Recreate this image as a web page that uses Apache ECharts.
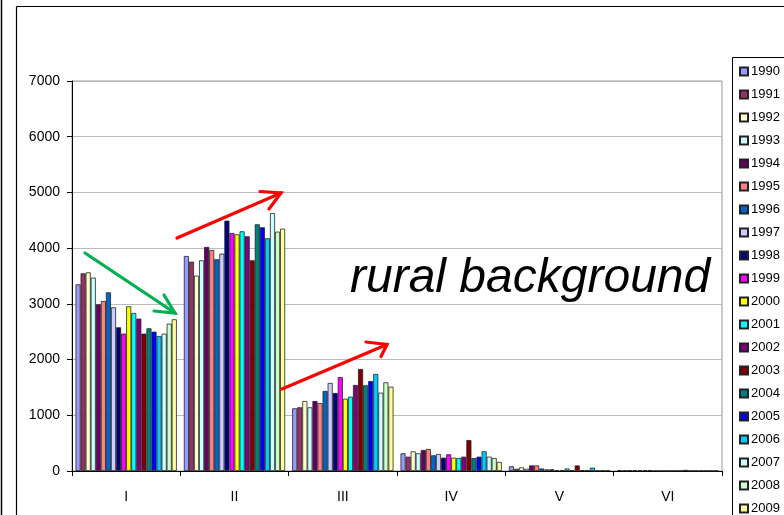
<!DOCTYPE html>
<html>
<head>
<meta charset="utf-8">
<script src="https://cdn.jsdelivr.net/npm/echarts@6/dist/echarts.min.js"></script>
<style>
  html, body { margin: 0; padding: 0; background: #fff; }
  #chart { width: 784px; height: 515px; }
</style>
</head>
<body>
<div id="chart"></div>
<script>
// Zone categories and the years shown as series
const categories = ['I', 'II', 'III', 'IV', 'V', 'VI'];
const years = ['1990','1991','1992','1993','1994','1995','1996','1997','1998','1999',
               '2000','2001','2002','2003','2004','2005','2006','2007','2008','2009'];

// Values per zone, one entry per year (1990..2009)
const zoneI   = [3350,3548,3566,3470,2992,3052,3207,2938,2579,2465,2956,2836,2734,2465,2561,2501,2423,2465,2644,2723];
const zoneII  = [3859,3757,3506,3782,4021,3967,3800,3901,4493,4272,4248,4302,4213,3782,4428,4374,4177,4631,4296,4350];
const zoneIII = [1125,1143,1256,1143,1256,1220,1436,1580,1400,1687,1298,1334,1544,1831,1538,1615,1741,1406,1592,1513];
const zoneIV  = [318,257,353,318,377,395,282,305,239,300,239,233,257,556,233,257,353,257,233,162];
const zoneV   = [85,40,65,40,100,100,45,30,30,15,15,45,15,100,15,15,60,10,10,10];
const zoneVI  = [15,10,15,15,15,15,15,5,5,5,5,5,5,20,5,5,5,5,5,5];

// Y axis ticks
const yTicks = [0,1000,2000,3000,4000,5000,6000,7000];

const palette = ['#9999FF','#993366','#FFFFCC','#CCFFFF','#660066','#FF8080','#0066CC','#CCCCFF',
                 '#000080','#FF00FF','#FFFF00','#00FFFF','#800080','#800000','#008080','#0000FF',
                 '#00CCFF','#CCFFFF','#CCFFCC','#FFFF99'];

const zones = [zoneI, zoneII, zoneIII, zoneIV, zoneV, zoneVI];

const series = years.map((y, i) => ({
  name: y,
  type: 'bar',
  barGap: '0%',
  barCategoryGap: '6.5%',
  data: zones.map(z => z[i]),
  itemStyle: { color: palette[i], borderColor: '#222', borderWidth: 0.8 },
  emphasis: { disabled: true }
}));

function arrow(from, to, w1, w2, color) {
  return [
    { type: 'line', silent: true, z: 100,
      shape: { x1: from[0], y1: from[1], x2: to[0], y2: to[1] },
      style: { stroke: color, lineWidth: 3.2, lineCap: 'round' } },
    { type: 'polyline', silent: true, z: 100,
      shape: { points: [w1, to, w2] },
      style: { stroke: color, lineWidth: 3.2, lineCap: 'round', lineJoin: 'miter', fill: null } }
  ];
}

const chart = echarts.init(document.getElementById('chart'), null, { renderer: 'canvas' });

chart.setOption({
  animation: false,
  backgroundColor: '#fff',
  textStyle: { fontFamily: 'Liberation Sans, Arial, sans-serif' },
  grid: { left: 72, top: 81, width: 650, height: 390, show: true, borderColor: '#999', borderWidth: 1 },
  legend: {
    orient: 'vertical',
    left: 739,
    top: 65,
    height: 480,
    padding: 0,
    itemWidth: 8,
    itemHeight: 8,
    itemGap: 10,
    icon: 'rect',
    selectedMode: false,
    data: years,
    textStyle: { fontSize: 13, lineHeight: 13, color: '#000', padding: [0, 0, 0, -2] }
  },
  xAxis: {
    type: 'category',
    data: categories,
    axisLine: { lineStyle: { color: '#000', width: 1 } },
    axisTick: { show: true, length: 5, lineStyle: { color: '#000' } },
    axisLabel: { color: '#000', fontSize: 14, margin: 19 },
    splitLine: { show: false }
  },
  yAxis: {
    type: 'value',
    min: yTicks[0],
    max: yTicks[yTicks.length - 1],
    interval: 1000,
    axisLine: { show: true, lineStyle: { color: '#000', width: 1 } },
    axisTick: { show: true, length: 5, lineStyle: { color: '#000' } },
    axisLabel: { color: '#000', fontSize: 14, margin: 12, formatter: v => String(v) },
    splitLine: { lineStyle: { color: '#bbb', width: 1 } }
  },
  series: series,
  graphic: [
    // outer frame lines
    { type: 'line', silent: true, shape: { x1: 1.5, y1: 0, x2: 1.5, y2: 515 }, style: { stroke: '#000', lineWidth: 1.5 } },
    { type: 'line', silent: true, shape: { x1: 16.5, y1: 6.5, x2: 16.5, y2: 515 }, style: { stroke: '#000', lineWidth: 1.2 } },
    { type: 'line', silent: true, shape: { x1: 16.5, y1: 6.5, x2: 784, y2: 6.5 }, style: { stroke: '#000', lineWidth: 1.2 } },
    // legend box
    { type: 'rect', silent: true, z: -1, shape: { x: 732.5, y: 57.5, width: 100, height: 500 }, style: { stroke: '#000', lineWidth: 1, fill: '#fff' } },
    // caption
    { type: 'text', silent: true, z: 100, x: 350, y: 279,
      style: { text: 'rural background', fill: '#000', fontSize: 48, fontStyle: 'italic',
               fontFamily: 'Liberation Sans, Arial, sans-serif', verticalAlign: 'middle', align: 'left' } },
    // trend arrows
    ...arrow([85, 253], [175, 313], [164, 295], [154, 311], '#00B050'),
    ...arrow([177, 238], [281, 193], [260, 191.5], [269, 209], '#FF0000'),
    ...arrow([282, 389], [387, 344.5], [366, 342], [381, 356.5], '#FF0000')
  ]
});
</script>
</body>
</html>
